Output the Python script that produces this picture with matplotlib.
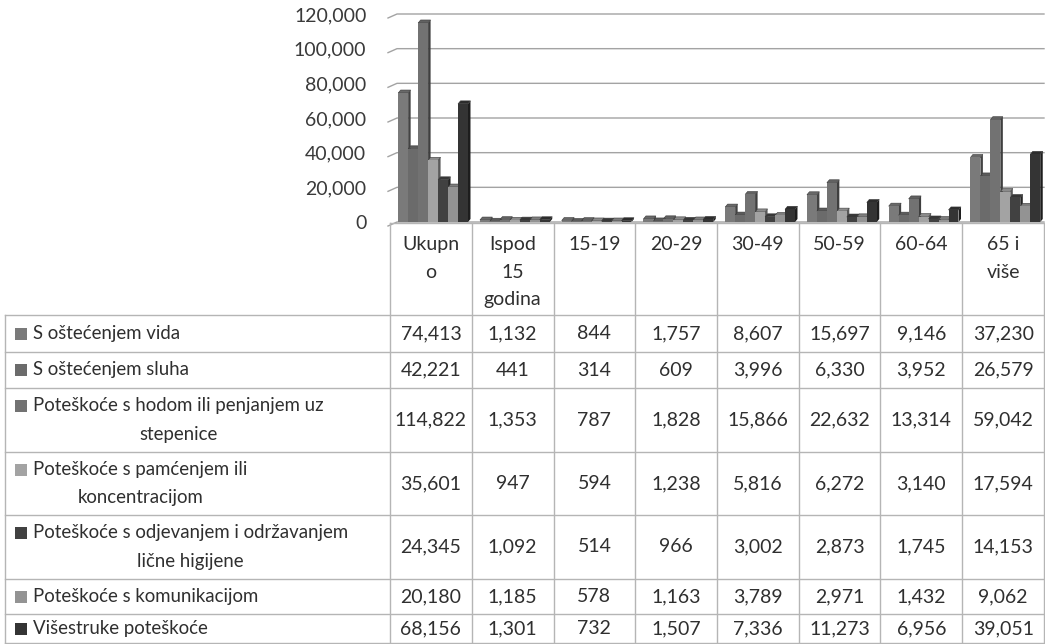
import numpy as np
import matplotlib.pyplot as plt
from matplotlib.patches import Polygon, Rectangle
from matplotlib.lines import Line2D
from matplotlib.colors import to_rgb
from matplotlib.transforms import blended_transform_factory

plt.rcParams['font.family'] = ['Lato', 'DejaVu Sans']

# --- data ---
categories = ["Ukupn\no", "Ispod\n15\ngodina", "15-19", "20-29", "30-49", "50-59", "60-64", "65 i\nviše"]
series_names = [
    "S oštećenjem vida",
    "S oštećenjem sluha",
    "Poteškoće s hodom ili penjanjem uz\nstepenice",
    "Poteškoće s pamćenjem ili\nkoncentracijom",
    "Poteškoće s odjevanjem i održavanjem\nlične higijene",
    "Poteškoće s komunikacijom",
    "Višestruke poteškoće",
]
vida = [74413, 1132, 844, 1757, 8607, 15697, 9146, 37230]
sluha = [42221, 441, 314, 609, 3996, 6330, 3952, 26579]
hodom = [114822, 1353, 787, 1828, 15866, 22632, 13314, 59042]
pamcenjem = [35601, 947, 594, 1238, 5816, 6272, 3140, 17594]
odjevanjem = [24345, 1092, 514, 966, 3002, 2873, 1745, 14153]
komunikacijom = [20180, 1185, 578, 1163, 3789, 2971, 1432, 9062]
visestruke = [68156, 1301, 732, 1507, 7336, 11273, 6956, 39051]
series_values = [vida, sluha, hodom, pamcenjem, odjevanjem, komunikacijom, visestruke]
yticks = [0, 20000, 40000, 60000, 80000, 100000, 120000]

colors = ["#7a7a7a", "#6b6b6b", "#727272", "#a3a3a3", "#414141", "#939393", "#343434"]

W, H = 1045, 644
fig = plt.figure(figsize=(W / 100, H / 100), dpi=100)
fig.patch.set_facecolor("white")

FS = 14
txt_c = "#2f2f2f"


def fx(px):
    return px / W


def fy(py):
    return 1 - py / H


# chart area (pixel layout)
left, right, top, bottom = 390, 1044, 14, 222
ax = fig.add_axes([fx(left), fy(bottom), fx(right - left), fy(top) - fy(bottom)])
ax.set_xlim(0, len(categories))
ax.set_ylim(0, 120000)
for s in ax.spines.values():
    s.set_visible(False)
ax.set_xticks([])
ax.set_yticks(yticks)
ax.set_yticklabels([f"{v:,}" for v in yticks], fontsize=FS, color="#3a3a3a")
ax.tick_params(axis="y", length=0, pad=17)
ax.patch.set_alpha(0)

# gridlines with the little 3D wall slant at the left
px_x = len(categories) / (right - left)
px_y = 120000 / (bottom - top)
trans = blended_transform_factory(ax.transAxes, ax.transData)
for v in yticks:
    ax.add_line(Line2D([-2 / (right - left), 7 / (right - left), 1], [v - 4 * px_y, v, v],
                       transform=trans, color="#a3a3a3", lw=1.0, clip_on=False, zorder=0))

# 3D-ish clustered columns
n = len(series_values)
bw = 0.122
dx, dy = 2.5 * px_x, 3.0 * px_y
for i, vals in enumerate(series_values):
    base = np.arange(len(categories)) + 0.527 + (i - (n - 1) / 2) * bw
    c = colors[i]
    side = tuple(0.55 * k for k in to_rgb(c))
    topc = tuple(min(1, 0.85 * k) for k in to_rgb(c))
    for xc, v in zip(base, vals):
        l, r = xc - bw / 2, xc + bw / 2
        ax.add_patch(Polygon([(r, 0), (r, v), (r + dx, v + dy), (r + dx, dy)],
                             closed=True, facecolor=side, edgecolor="none", zorder=2 + i))
        ax.add_patch(Polygon([(l, v), (l + dx, v + dy), (r + dx, v + dy), (r, v)],
                             closed=True, facecolor=topc, edgecolor="#3a3a3a", lw=0.4, zorder=2 + i))
    ax.bar(base, vals, width=bw, color=c, edgecolor="none", zorder=2 + i)

# --- data table ---
col_edges = np.linspace(390, 1044, len(categories) + 1)
row_lines = [315, 352, 388, 452, 515, 579, 614, 643]
line_c = "#b5b5b5"


def hline(y, x0, x1):
    fig.add_artist(Line2D([fx(x0), fx(x1)], [fy(y), fy(y)], color=line_c, lw=1.0))


def vline(x, y0, y1):
    fig.add_artist(Line2D([fx(x), fx(x)], [fy(y0), fy(y1)], color=line_c, lw=1.0))


hline(223, 390, 1044)
for y in row_lines:
    hline(y, 5, 1044)
vline(5, 315, 643)
for x in col_edges:
    vline(x, 223, 643)

for j, cat in enumerate(categories):
    xc = (col_edges[j] + col_edges[j + 1]) / 2
    fig.text(fx(xc), fy(236), cat, ha="center", va="top", fontsize=FS,
             color=txt_c, linespacing=1.75, multialignment="center")

for i, name in enumerate(series_names):
    y0, y1 = row_lines[i], row_lines[i + 1]
    yc = (y0 + y1) / 2
    two = "\n" in name
    fig.text(fx(33), fy(yc), name, ha="left", va="center", fontsize=13.4,
             color=txt_c, linespacing=1.8, multialignment="center")
    my = yc - 14 if two else yc
    fig.add_artist(Rectangle((fx(15), fy(my + 6)), fx(12), fy(my - 6) - fy(my + 6),
                             facecolor=colors[i], edgecolor="none"))
    for j, v in enumerate(series_values[i]):
        xc = (col_edges[j] + col_edges[j + 1]) / 2
        fig.text(fx(xc), fy(yc), f"{v:,}", ha="center", va="center", fontsize=FS, color=txt_c)

fig.savefig("out.png", dpi=100)
